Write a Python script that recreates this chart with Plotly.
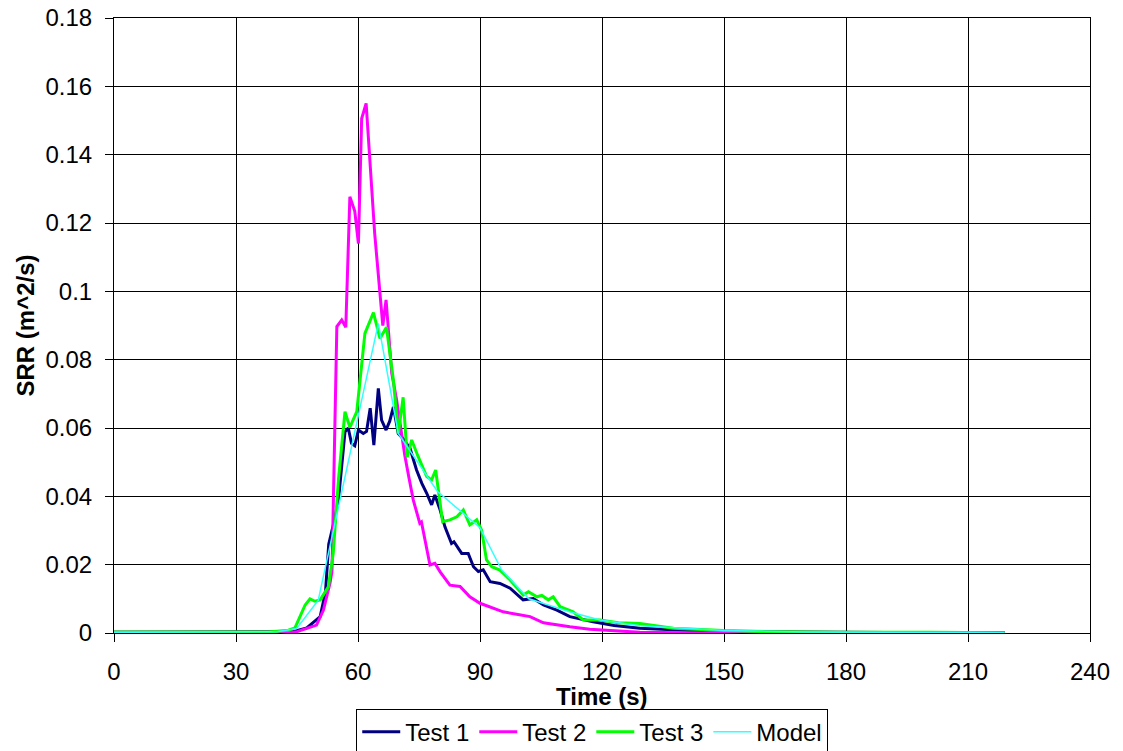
import plotly.graph_objects as go

# Test 1 (navy)
t1_time = [0, 10, 20, 30, 40, 44, 47.4, 49, 50.7, 52, 52.8, 53.2, 54, 55.2, 56.8, 57.6, 58.4, 59.2,
           60.1, 61.3, 62.1, 63.0, 63.9, 65.0, 65.8, 66.9, 67.8, 68.7, 69.9, 71, 72.8, 74.4, 75.7,
           76.9, 78.1, 78.9, 80.2, 81.4, 83.0, 83.6, 85.5, 87.1, 88.4, 89.6, 90.8, 92.5, 94.9, 97.4,
           100.6, 103.1, 105.6, 108.9, 112.1, 117.8, 123, 129.3, 135, 141.6, 150, 160, 170, 180,
           190, 200, 210, 219]
t1_srr = [0.0002, 0.0002, 0.0002, 0.0002, 0.0002, 0.0004, 0.0015, 0.0030, 0.0048, 0.012, 0.026,
          0.028, 0.032, 0.039, 0.0589, 0.060, 0.0555, 0.0548, 0.0594, 0.0584, 0.059, 0.0658, 0.055,
          0.0716, 0.0623, 0.0594, 0.062, 0.0662, 0.0584, 0.057, 0.054, 0.0477, 0.0438, 0.0409,
          0.0375, 0.0404, 0.036, 0.031, 0.0262, 0.0267, 0.0233, 0.0233, 0.0194, 0.018, 0.0185,
          0.015, 0.0145, 0.0131, 0.0097, 0.0101, 0.0082, 0.0067, 0.0048, 0.0033, 0.0022, 0.0014,
          0.0010, 0.0007, 0.0004, 0.0003, 0.0002, 0.0002, 0.0002, 0.0001, 0.0001, 0.0001]

# Test 2 (magenta)
t2_time = [0, 10, 20, 30, 40, 43, 45, 47.4, 49.8, 51.5, 53.1, 53.6, 54.8, 56.0, 57.0, 58.0, 59.2,
           60.1, 60.9, 62.0, 63.0, 64.1, 65.4, 66.1, 66.9, 68.3, 69.5, 70.7, 71.5, 72.6, 73.6, 75.2,
           75.6, 77.7, 78.9, 80.2, 82.6, 85.1, 87.5, 90, 92.5, 95.7, 99, 102.3, 105.6, 108.9, 112.1,
           117, 123, 129.3, 140, 150, 160, 180, 200, 219]
t2_srr = [0.0002, 0.0002, 0.0002, 0.0001, 0.0001, 0.0002, 0.0004, 0.0014, 0.0023, 0.0067, 0.0145,
          0.018, 0.0897, 0.0916, 0.0895, 0.1277, 0.1235, 0.114, 0.1506, 0.155, 0.136, 0.117, 0.0994,
          0.090, 0.0975, 0.076, 0.0682, 0.0584, 0.052, 0.045, 0.0389, 0.0321, 0.0325, 0.0199,
          0.0204, 0.0179, 0.014, 0.0136, 0.0106, 0.0087, 0.0075, 0.0062, 0.0055, 0.0048, 0.0030,
          0.0023, 0.0018, 0.0011, 0.0006, 0.0002, 0.0001, 0.0001, 0.0001, 0.0001, 0.0001, 0.0001]

# Test 3 (green)
t3_time = [0, 10, 20, 30, 38, 42.9, 44.5, 47.0, 48.2, 49.4, 50.7, 52.7, 53.9, 55.2, 56.8, 58.0,
           59.7, 61.7, 63.8, 65.4, 67.0, 68.7, 69.9, 71.1, 72.1, 73.2, 74.8, 76.9, 78.1, 79.1, 80.8,
           82.6, 84.3, 85.9, 87.5, 89.2, 90.4, 91.6, 92.9, 94.9, 97.4, 100.6, 101.9, 104, 105.2,
           106.8, 108, 109.7, 112.9, 115.4, 119.5, 124, 129.3, 137.5, 149.8, 160, 178.4, 200, 219]
t3_srr = [0.0003, 0.0004, 0.0003, 0.0003, 0.0003, 0.0008, 0.0015, 0.0082, 0.0100, 0.0093, 0.0097,
          0.0135, 0.0233, 0.045, 0.0648, 0.0602, 0.0648, 0.0877, 0.0938, 0.0862, 0.0895, 0.074,
          0.0584, 0.069, 0.0515, 0.0565, 0.0516, 0.0458, 0.0448, 0.0477, 0.0326, 0.0331, 0.034,
          0.036, 0.0316, 0.0331, 0.0301, 0.0214, 0.0194, 0.0184, 0.0155, 0.0111, 0.0121, 0.0106,
          0.011, 0.0097, 0.0106, 0.0077, 0.0062, 0.0038, 0.0038, 0.003, 0.0028, 0.0014, 0.0007,
          0.0004, 0.0002, 0.0002, 0.0001]

# Model (cyan)
model_time = [0, 10, 20, 30, 40, 44.9, 50.2, 65.0, 69.9, 79.5, 90, 95.3, 102, 112, 119.5, 129.3,
              150, 170, 200, 219]
model_srr = [0.0002, 0.0002, 0.0002, 0.0002, 0.0004, 0.0013, 0.0095, 0.0906, 0.0584, 0.0415,
             0.0308, 0.0185, 0.0100, 0.0062, 0.0038, 0.0021, 0.0007, 0.0003, 0.0002, 0.0001]

x_ticks = [0, 30, 60, 90, 120, 150, 180, 210, 240]
y_ticks = [0, 0.02, 0.04, 0.06, 0.08, 0.1, 0.12, 0.14, 0.16, 0.18]
y_tick_labels = ['0', '0.02', '0.04', '0.06', '0.08', '0.1', '0.12', '0.14', '0.16', '0.18']

FONT = 'Arial, Liberation Sans, sans-serif'
FONT_SIZE = 24

series = [
  ('Test 1', t1_time, t1_srr, '#000080', 3),
  ('Test 2', t2_time, t2_srr, '#FF00FF', 3),
  ('Test 3', t3_time, t3_srr, '#00FF00', 3),
  ('Model', model_time, model_srr, '#33FFFF', 1.5),
]

fig = go.Figure()
for name, t, v, color, width in series:
  fig.add_trace(go.Scatter(x=t, y=v, name=name, mode='lines',
                           line=dict(color=color, width=width)))

axis_common = dict(
  showline=True, linecolor='black', linewidth=1, mirror=True,
  showgrid=True, gridcolor='black', gridwidth=1,
  ticks='outside', ticklen=8, tickcolor='black',
  tickfont=dict(family=FONT, size=FONT_SIZE, color='black'),
  zeroline=False, automargin=False, ticklabeloverflow='allow',
)

fig.update_xaxes(range=[0, 240], tickvals=x_ticks, ticklabelstandoff=9, **axis_common)
fig.update_yaxes(range=[0, 0.18], tickvals=y_ticks, ticktext=y_tick_labels, ticklabelstandoff=8,
                 title=dict(text='<b>SRR (m^2/s)</b>', standoff=4,
                            font=dict(family=FONT, size=FONT_SIZE, color='black')),
                 **axis_common)

# x title sits tight under the tick labels, closer than a title standoff allows
fig.add_annotation(text='<b>Time (s)</b>', xref='paper', yref='paper', x=0.5, y=-0.103,
                   xanchor='center', yanchor='middle', showarrow=False,
                   font=dict(family=FONT, size=FONT_SIZE, color='black'))

# the page body adds an 8px offset, so the margins are trimmed by 8px
fig.update_layout(
  width=1123, height=780,
  margin=dict(l=106, r=41, t=10, b=155),
  paper_bgcolor='white', plot_bgcolor='white',
  font=dict(family=FONT, color='black'),
  legend=dict(orientation='h', x=0.49, xanchor='center', y=-0.123, yanchor='top',
              bordercolor='black', borderwidth=1,
              font=dict(family=FONT, size=24, color='black'),
              itemwidth=38, tracegroupgap=0),
)

fig.write_html("out.html")
